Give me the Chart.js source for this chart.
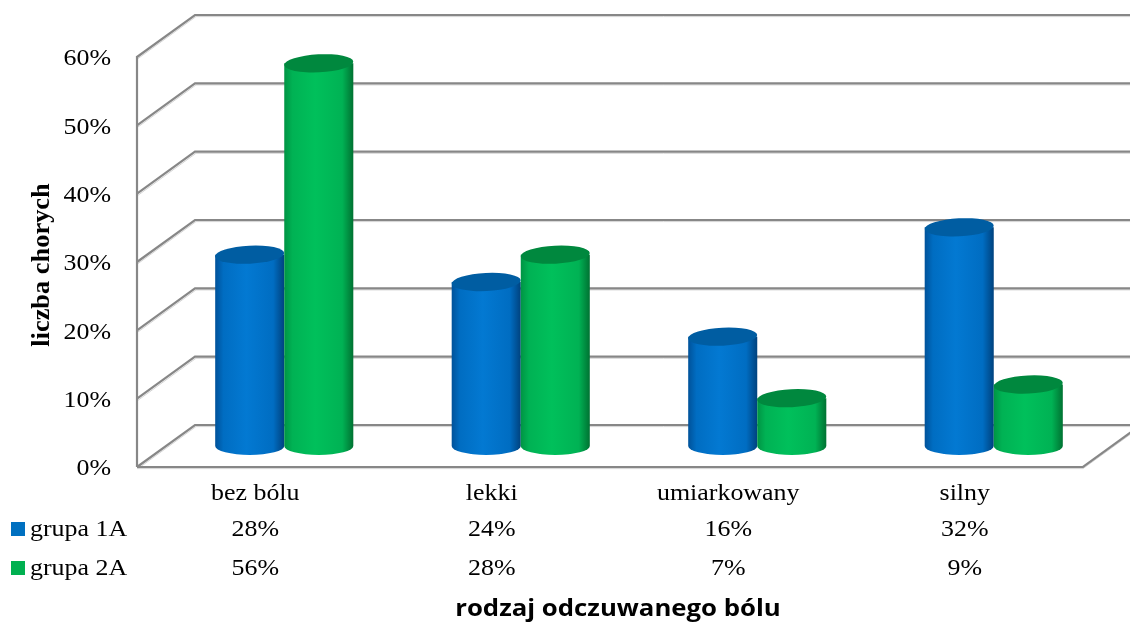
<!DOCTYPE html>
<html><head><meta charset="utf-8">
<script src="https://cdn.jsdelivr.net/npm/chart.js@4.4.1/dist/chart.umd.min.js"></script>
<style>html,body{margin:0;padding:0;background:#fff}canvas{display:block}</style>
</head><body>
<canvas id="c" width="1130" height="622"></canvas>
<script>
// Data
const categories = ['bez bólu', 'lekki', 'umiarkowany', 'silny'];
const grupa1A = [28, 24, 16, 32];
const grupa2A = [56, 28, 7, 9];
const seriesNames = ['grupa 1A', 'grupa 2A'];
const yTicks = [0, 10, 20, 30, 40, 50, 60];
const yTitle = 'liczba chorych';
const xTitle = 'rodzaj odczuwanego bólu';

// Styling
const DX = 58, DY = 42;          // depth of the 3D box
const STRETCH = 1.08;             // horizontal text stretch
const SERIF = '"Liberation Serif", "Times New Roman", serif';
const palette = [
  { edgeL: '#00529a', body: '#006dc2', hi: '#0379d2', edgeR: '#00427e', top: '#005da2', legend: '#0070c0' },
  { edgeL: '#009444', body: '#00b254', hi: '#00c05b', edgeR: '#007232', top: '#00883e', legend: '#00b050' }
];

function sText(ctx, text, x, y, align, font) {
  ctx.save();
  ctx.font = font;
  ctx.translate(x, y);
  ctx.scale(STRETCH, 1);
  ctx.textAlign = align;
  ctx.textBaseline = 'middle';
  ctx.fillStyle = '#000';
  ctx.fillText(text, 0, 0);
  ctx.restore();
}

function gline(ctx, pts, dark) {
  ctx.beginPath();
  ctx.moveTo(pts[0][0], pts[0][1]);
  for (let i = 1; i < pts.length; i++) ctx.lineTo(pts[i][0], pts[i][1]);
  ctx.strokeStyle = dark ? '#878787' : '#d4d4d4';
  ctx.lineWidth = dark ? 2.2 : 1;
  ctx.stroke();
}

const boxPlugin = {
  id: 'box3d',
  beforeDatasetsDraw(chart) {
    const ctx = chart.ctx;
    const { left, right, top, bottom } = chart.chartArea;
    const ys = chart.scales.y;
    ctx.save();
    ctx.lineCap = 'butt';
    // back-wall gridlines with their side-wall diagonals
    yTicks.forEach(v => {
      const py = ys.getPixelForValue(v);
      gline(ctx, [[left + 1, py + 1.6], [left + DX + 1, py - DY + 1.6], [right + DX + 20, py - DY + 1.6]], false);
      gline(ctx, [[left, py], [left + DX, py - DY], [right + DX + 20, py - DY]], true);
    });
    // side wall front edge
    gline(ctx, [[left, top - 1], [left, bottom]], true);
    // floor front edge
    gline(ctx, [[left, bottom + 1.6], [right, bottom + 1.6], [right + DX, bottom - DY + 1.6]], false);
    gline(ctx, [[left, bottom], [right, bottom], [right + DX, bottom - DY]], true);
    ctx.restore();
  },
  afterDatasetsDraw(chart) {
    const ctx = chart.ctx;
    const metas = chart.data.datasets.map((d, i) => chart.getDatasetMeta(i));
    ctx.save();
    categories.forEach((c, i) => {
      metas.forEach((meta, di) => {
        const el = meta.data[i];
        const p = el.getProps(['x', 'y', 'base', 'width'], true);
        const col = palette[di];
        const cx = p.x + DX / 2, rx = p.width / 2, ry = 9;
        const yTop = p.y - DY / 2, yBot = p.base - DY / 2;
        const l = cx - rx, r = cx + rx;
        const g = ctx.createLinearGradient(l, 0, r, 0);
        g.addColorStop(0, col.edgeL);
        g.addColorStop(0.12, col.body);
        g.addColorStop(0.45, col.hi);
        g.addColorStop(0.84, col.body);
        g.addColorStop(1, col.edgeR);
        ctx.beginPath();
        ctx.moveTo(l, yTop);
        ctx.lineTo(l, yBot);
        ctx.ellipse(cx, yBot, rx, ry, 0, Math.PI, 0, true);
        ctx.lineTo(r, yTop);
        ctx.closePath();
        ctx.fillStyle = g;
        ctx.fill();
        ctx.beginPath();
        ctx.ellipse(cx, yTop, rx, ry, -0.05, 0, Math.PI * 2);
        ctx.fillStyle = col.top;
        ctx.fill();
      });
    });
    ctx.restore();
  },
  afterDraw(chart) {
    const ctx = chart.ctx;
    const { left, right, bottom } = chart.chartArea;
    const ys = chart.scales.y, xs = chart.scales.x;
    const f = '24px ' + SERIF;
    // y tick labels
    yTicks.forEach(v => sText(ctx, v + '%', left - 26, ys.getPixelForValue(v) + 2, 'right', f));
    // y title
    ctx.save();
    ctx.translate(43, 265);
    ctx.rotate(-Math.PI / 2);
    ctx.scale(1.2, 1.12);
    ctx.font = 'bold 22px ' + SERIF;
    ctx.textAlign = 'center';
    ctx.textBaseline = 'middle';
    ctx.fillStyle = '#000';
    ctx.fillText(yTitle, 0, 0);
    ctx.restore();
    // data table
    const rowY = [bottom + 27, bottom + 63, bottom + 102];
    categories.forEach((c, i) => {
      const px = xs.getPixelForValue(i);
      sText(ctx, c, px, rowY[0], 'center', f);
      sText(ctx, grupa1A[i] + '%', px, rowY[1], 'center', f);
      sText(ctx, grupa2A[i] + '%', px, rowY[2], 'center', f);
    });
    seriesNames.forEach((n, k) => {
      ctx.fillStyle = palette[k].legend;
      ctx.fillRect(11, rowY[k + 1] - 8, 14, 14);
      sText(ctx, n, 30, rowY[k + 1], 'left', f);
    });
    // x title
    ctx.save();
    ctx.font = 'bold 23px "Open Sans", sans-serif';
    ctx.translate((left + right) / 2 + 8, bottom + 142);
    ctx.scale(1.12, 1);
    ctx.textAlign = 'center';
    ctx.textBaseline = 'middle';
    ctx.fillStyle = '#000';
    ctx.fillText(xTitle, 0, 0);
    ctx.restore();
  }
};

new Chart(document.getElementById('c'), {
  type: 'bar',
  data: {
    labels: categories,
    datasets: [
      { label: seriesNames[0], data: grupa1A, backgroundColor: 'rgba(0,0,0,0)', borderWidth: 0, categoryPercentage: 0.584, barPercentage: 1 },
      { label: seriesNames[1], data: grupa2A, backgroundColor: 'rgba(0,0,0,0)', borderWidth: 0, categoryPercentage: 0.584, barPercentage: 1 }
    ]
  },
  options: {
    responsive: false,
    animation: false,
    devicePixelRatio: 1,
    layout: { padding: { left: 137, right: 47, top: 57, bottom: 155 } },
    plugins: { legend: { display: false }, tooltip: { enabled: false } },
    scales: {
      x: { display: false },
      y: { display: false, min: 0, max: 60, ticks: { stepSize: 10 } }
    }
  },
  plugins: [boxPlugin]
});
</script>
</body></html>
